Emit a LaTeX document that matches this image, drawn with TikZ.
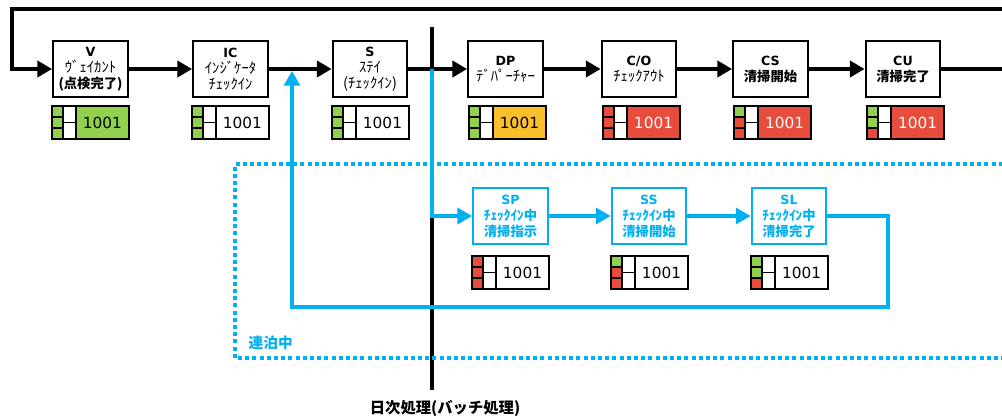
\documentclass[tikz,border=0pt]{standalone}
\usepackage{xcolor}
\usepackage{fontspec}
\usepackage{tikz}
\usetikzlibrary{arrows.meta}
\setmainfont{DejaVu Sans}
\newfontfamily\jp{Noto Sans CJK JP}
\newcommand{\kana}{\jp\fontsize{11pt}{12pt}\selectfont}
\newcommand{\kanji}{\jp\bfseries\fontsize{10pt}{12pt}\selectfont}

\definecolor{okgreen}{HTML}{92D050}
\definecolor{ngred}{HTML}{E84C3D}
\definecolor{dporange}{HTML}{FBBF2C}
\definecolor{stayblue}{HTML}{00B0F0}

% room state: name, left, top, three cells, fill, text colour
\newcommand{\roomstate}[8]{%
\begin{scope}[shift={(#2,#3)}]
\draw[cell, fill=#4] (0,0) rectangle (11,11);
\draw[cell, fill=#5] (0,11) rectangle (11,22);
\draw[cell, fill=#6] (0,22) rectangle (11,33);
\draw[cell, fill=white] (11,0) rectangle (24,33);
\draw[cell] (11,16.5) -- (24,16.5);
\draw[cell, fill=#7] (24,0) rectangle (77,33);
\node (#1) [text=#8, font=\fontsize{11.5pt}{13pt}\selectfont] at (50.5,16.5) {1001};
\end{scope}}

\begin{document}
\begin{tikzpicture}[x=0.75pt,y=0.75pt,yscale=-1,xscale=1,
  statebox/.style={draw, line width=1.6pt, fill=white, minimum width=56pt, minimum height=42pt, inner sep=0pt, align=center, font=\fontsize{9.5pt}{12pt}\selectfont},
  staybox/.style={statebox, draw=stayblue, text=stayblue},
  cell/.style={draw, line width=1.1pt},
  flow/.style={line width=3pt, -{Triangle[length=11pt,width=12pt]}},
  stayflow/.style={line width=2.3pt, draw=stayblue, -{Triangle[length=11pt,width=12pt]}}]
\clip (0,0) rectangle (1002,419);

% Batch line
\coordinate (bt) at (432,27);
\coordinate (bb) at (432,390);
\draw[line width=3pt] (bt) -- (bb);

% Stay frame
\draw[stayblue, line width=3pt, dash pattern=on 3pt off 2.4pt] (1010,164) -- (235,164) -- (235,358) -- (1010,358);
\node (stay) [anchor=west, text=stayblue, font=\jp\bfseries\fontsize{11pt}{13pt}\selectfont] at (244,343) {連泊中};

% State Nodes
\node (v) [statebox] at (90.5,69) {\textbf{V}\\{\kana ｳﾞｪｲｶﾝﾄ}\\{\kanji (点検完了)}};
\node (ic) [statebox] at (230.5,69) {\textbf{IC}\\{\kana ｲﾝｼﾞｹｰﾀ}\\{\kana ﾁｪｯｸｲﾝ}};
\node (s) [statebox] at (370,69) {\textbf{S}\\{\kana ｽﾃｲ}\\{\kana (ﾁｪｯｸｲﾝ)}};
\node (dp) [statebox] at (505.5,69) {\textbf{DP}\\{\kana ﾃﾞﾊﾟｰﾁｬｰ}};
\node (co) [statebox] at (639,69) {\textbf{C/O}\\{\kana ﾁｪｯｸｱｳﾄ}};
\node (cs) [statebox] at (770.5,69) {\textbf{CS}\\{\kanji 清掃開始}};
\node (cu) [statebox] at (903,69) {\textbf{CU}\\{\kanji 清掃完了}};

\node (sp) [staybox] at (510.5,216) {\textbf{SP}\\{\kanji ﾁｪｯｸｲﾝ中}\\{\kanji 清掃指示}};
\node (ss) [staybox] at (649,216) {\textbf{SS}\\{\kanji ﾁｪｯｸｲﾝ中}\\{\kanji 清掃開始}};
\node (sl) [staybox] at (789,216) {\textbf{SL}\\{\kanji ﾁｪｯｸｲﾝ中}\\{\kanji 清掃完了}};

% Room states
\roomstate{stv}{52}{106}{okgreen}{okgreen}{okgreen}{okgreen}{black}
\roomstate{stic}{192}{106}{okgreen}{okgreen}{okgreen}{white}{black}
\roomstate{sts}{332}{106}{okgreen}{okgreen}{okgreen}{white}{black}
\roomstate{stdp}{469}{106}{okgreen}{okgreen}{okgreen}{dporange}{black}
\roomstate{stco}{603}{106}{ngred}{ngred}{ngred}{ngred}{white}
\roomstate{stcs}{734}{106}{okgreen}{ngred}{ngred}{ngred}{white}
\roomstate{stcu}{867}{106}{okgreen}{okgreen}{ngred}{ngred}{white}
\roomstate{stsp}{472}{256}{ngred}{ngred}{ngred}{white}{black}
\roomstate{stss}{611}{256}{okgreen}{ngred}{ngred}{white}{black}
\roomstate{stsl}{751}{256}{okgreen}{okgreen}{ngred}{white}{black}

% Connections
\coordinate (loopr) at (1012,69);
\coordinate (loopl) at (12,9);
\coordinate (split) at (432,69);
\coordinate (join) at (292,69);
\draw[flow] (cu.east) -- (loopr) |- (loopl) |- (v.west);
\draw[flow] (v) -- (ic);
\draw[flow] (ic) -- (s);
\draw[flow] (s) -- (dp);
\draw[flow] (dp) -- (co);
\draw[flow] (co) -- (cs);
\draw[flow] (cs) -- (cu);

\draw[stayflow] (split) |- (sp.west);
\draw[stayflow] (sp) -- (ss);
\draw[stayflow] (ss) -- (sl);
\draw[stayflow, shorten >=1.5pt] (sl.east) -| (888,307) -| (join);

% Text Node
\node (batch) [font=\jp\bfseries\fontsize{11.5pt}{13pt}\selectfont] at (445,408) {日次処理(バッチ処理)};

\end{tikzpicture}
\end{document}
